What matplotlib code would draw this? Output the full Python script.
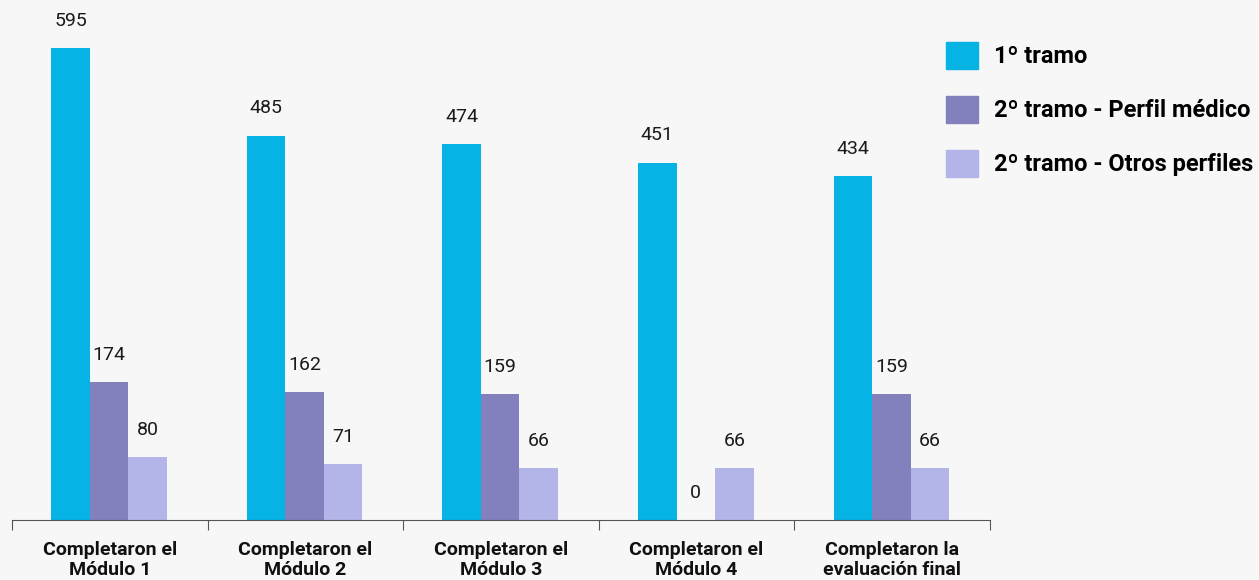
import matplotlib.pyplot as plt
import numpy as np
from matplotlib.patches import Patch

# --- Datos ---
categorias = ['Completaron el\nMódulo 1', 'Completaron el\nMódulo 2', 'Completaron el\nMódulo 3',
              'Completaron el\nMódulo 4', 'Completaron la\nevaluación final']
tramo1 = [595, 485, 474, 451, 434]
tramo2_medico = [174, 162, 159, 0, 159]
tramo2_otros = [80, 71, 66, 66, 66]
series = ['1º tramo', '2º tramo - Perfil médico', '2º tramo - Otros perfiles']
colores = ['#05b3e5', '#8280bd', '#b3b5e8']
fondo = '#f7f7f7'

plt.rcParams['font.family'] = ['Roboto', 'DejaVu Sans']

fig = plt.figure(figsize=(12.59, 5.8), dpi=100, facecolor=fondo)
ax = fig.add_axes([12 / 1259, 60 / 580, 978 / 1259, 520 / 580])
ax.set_facecolor(fondo)

x = np.arange(len(categorias))
ancho = 0.197
valores = [tramo1, tramo2_medico, tramo2_otros]
for i, (vals, nombre, color) in enumerate(zip(valores, series, colores)):
    pos = x + (i - 1) * ancho - 0.004
    ax.bar(pos, vals, width=ancho, color=color, label=nombre)
    for px, v in zip(pos, vals):
        ax.annotate(str(v), (px, v), xytext=(0, 19.5), textcoords='offset points',
                    ha='center', va='center', fontsize=14, color='#1a1a1a')

ax.set_xlim(-0.5, 4.5)
ax.set_ylim(0, 656)
ax.set_yticks([])
for s in ['top', 'right', 'left']:
    ax.spines[s].set_visible(False)
ax.spines['bottom'].set_color('#555555')

# ticks en los bordes de cada categoria
ax.set_xticks(np.arange(-0.5, 5, 1))
ax.set_xticklabels([])
ax.tick_params(axis='x', length=7, color='#555555', direction='out')
ax.set_xticks(x, minor=True)
ax.set_xticklabels(categorias, minor=True, fontsize=14, fontweight='bold',
                   color='#111111', linespacing=1.15)
ax.tick_params(axis='x', which='minor', length=0, pad=15)

handles = [Patch(color=c) for c in colores]
fig.legend(handles, series, loc='upper left', bbox_to_anchor=(938 / 1259, 1 - 34 / 580),
           frameon=False, prop={'size': 17, 'weight': 'bold'},
           handlelength=1.36, handleheight=1.36, handletextpad=0.65, labelspacing=1.15,
           borderaxespad=0, borderpad=0.35)

fig.savefig('out.png', dpi=100, facecolor=fondo)
